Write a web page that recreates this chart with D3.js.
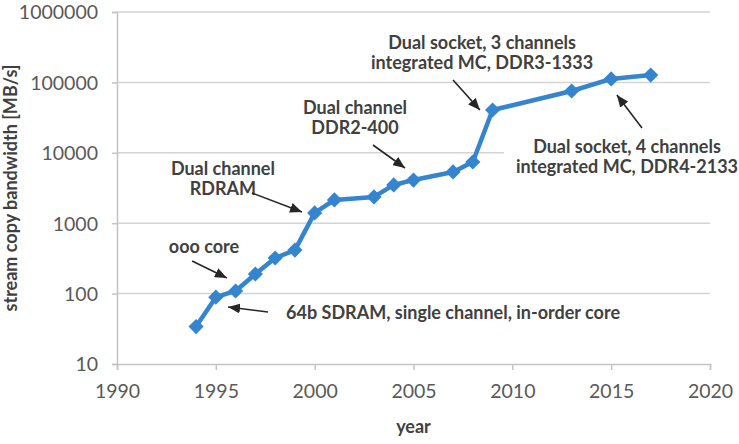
<!DOCTYPE html>
<html>
<head>
<meta charset="utf-8">
<script src="https://cdn.jsdelivr.net/npm/d3@7"></script>
<style>
  body { margin: 0; background: #fff; }
  svg { display: block; }
  .tick text { font-family: Lato, "Liberation Sans", sans-serif; font-size: 19.5px; fill: #595959; }
  .note { font-family: Lato, "Liberation Sans", sans-serif; font-weight: bold; font-size: 18px; fill: #404040; }
  .title { font-family: Lato, "Liberation Sans", sans-serif; font-weight: bold; font-size: 18px; fill: #404040; }
</style>
</head>
<body>
<svg id="chart"></svg>
<script>
// measured stream copy bandwidth per year (MB/s)
const years = [1994, 1995, 1996, 1997, 1998, 1999, 2000, 2001, 2003, 2004, 2005, 2007, 2008, 2009, 2013, 2015, 2017];
const bandwidth = [34, 89, 109, 190, 320, 415, 1400, 2140, 2360, 3500, 4100, 5350, 7400, 40500, 75500, 112000, 127000];

const xTicks = [1990, 1995, 2000, 2005, 2010, 2015, 2020];
const yTicks = [10, 100, 1000, 10000, 100000, 1000000];

// annotations, in data units (year, MB/s)
const noteText = [
	["ooo core"],
	["64b SDRAM, single channel, in-order core"],
	["Dual channel", "RDRAM"],
	["Dual channel", "DDR2-400"],
	["Dual socket, 3 channels", "integrated MC, DDR3-1333"],
	["Dual socket, 4 channels", "integrated MC, DDR4-2133"]
];
const noteAt = [[1994.4, 459], [2007.0, 53], [1995.36, 4246], [2002.04, 31700], [2008.47, 262000], [2015.8, 8850]];
const arrowFrom = [[1993.8, 290], [1997.64, 54.8], [1996.83, 2685], [2002.95, 12900], [2007.0, 108000], [2016.56, 22500]];
const arrowTo = [[1995.56, 167], [1995.62, 64.5], [1999.36, 1443], [2004.57, 6080], [2008.36, 40500], [2015.29, 66200]];

const width = 739, height = 444;
const margin = {top: 12, right: 29, bottom: 80, left: 117};

const svg = d3.select("#chart").attr("width", width).attr("height", height);

const x = d3.scaleLinear().domain([1990, 2020]).range([margin.left, width - margin.right]);
const y = d3.scaleLog().domain([10, 1000000]).range([height - margin.bottom, margin.top]);

// gridlines
svg.append("g")
	.selectAll("line")
	.data(yTicks.slice(1))
	.enter().append("line")
	.attr("x1", x(1990)).attr("x2", x(2020))
	.attr("y1", d => y(d)).attr("y2", d => y(d))
	.attr("stroke", "#d4d4d4")
	.attr("stroke-width", 1.5);

// axes
const xAxis = svg.append("g")
	.attr("transform", "translate(0," + y(10) + ")")
	.call(d3.axisBottom(x).tickValues(xTicks).tickFormat(d3.format("d")).tickSize(6).tickPadding(14));

const yAxis = svg.append("g")
	.attr("transform", "translate(" + x(1990) + ",0)")
	.call(d3.axisLeft(y).tickValues(yTicks).tickFormat(d3.format("d")).tickSize(5).tickPadding(14));

[xAxis, yAxis].forEach(a => {
	a.select(".domain").attr("stroke", "#c4c4c4").attr("stroke-width", 1.5);
	a.selectAll(".tick line").attr("stroke", "#c4c4c4").attr("stroke-width", 1.5);
});
yAxis.selectAll(".tick text").attr("dy", "0.35em");

// axis titles
svg.append("text")
	.attr("class", "title")
	.attr("x", (x(1990) + x(2020)) / 2)
	.attr("y", 433)
	.attr("text-anchor", "middle")
	.text("year");

svg.append("text")
	.attr("class", "title")
	.attr("transform", "translate(17," + (y(10) + y(1000000)) / 2 + ") rotate(-90)")
	.attr("text-anchor", "middle")
	.text("stream copy bandwidth [MB/s]");

// series
const points = years.map((d, i) => [d, bandwidth[i]]);

svg.append("path")
	.datum(points)
	.attr("fill", "none")
	.attr("stroke", "#3484d0")
	.attr("stroke-width", 4.5)
	.attr("stroke-linejoin", "round")
	.attr("d", d3.line().x(d => x(d[0])).y(d => y(d[1])));

svg.append("g")
	.selectAll("path")
	.data(points)
	.enter().append("path")
	.attr("d", d3.symbol(d3.symbolSquare, 115))
	.attr("transform", d => "translate(" + x(d[0]) + "," + y(d[1]) + ") rotate(45)")
	.attr("fill", "#3484d0");

// annotations
svg.append("defs").append("marker")
	.attr("id", "head")
	.attr("markerUnits", "userSpaceOnUse")
	.attr("viewBox", "0 0 12 10")
	.attr("refX", 12).attr("refY", 5)
	.attr("markerWidth", 12).attr("markerHeight", 10)
	.attr("orient", "auto")
	.append("path")
	.attr("d", "M0,0 L12,5 L0,10 z")
	.attr("fill", "#262626");

const lineH = 20;

noteText.forEach((lines, i) => {
	const g = svg.append("g");
	const cx = x(noteAt[i][0]), cy = y(noteAt[i][1]);
	const top = cy - lines.length * lineH / 2;
	const bg = g.append("rect").attr("fill", "#fff");
	const texts = lines.map((t, j) => g.append("text")
		.attr("class", "note")
		.attr("x", cx)
		.attr("y", top + j * lineH + lineH / 2)
		.attr("dy", "0.35em")
		.attr("text-anchor", "middle")
		.text(t));
	const w = d3.max(texts, t => t.node().getComputedTextLength());
	bg.attr("x", cx - w / 2 - 12).attr("y", top - 2)
		.attr("width", w + 24).attr("height", lines.length * lineH + 4);

	svg.append("line")
		.attr("x1", x(arrowFrom[i][0])).attr("y1", y(arrowFrom[i][1]))
		.attr("x2", x(arrowTo[i][0])).attr("y2", y(arrowTo[i][1]))
		.attr("stroke", "#262626")
		.attr("stroke-width", 1.6)
		.attr("marker-end", "url(#head)");
});
</script>
</body>
</html>
